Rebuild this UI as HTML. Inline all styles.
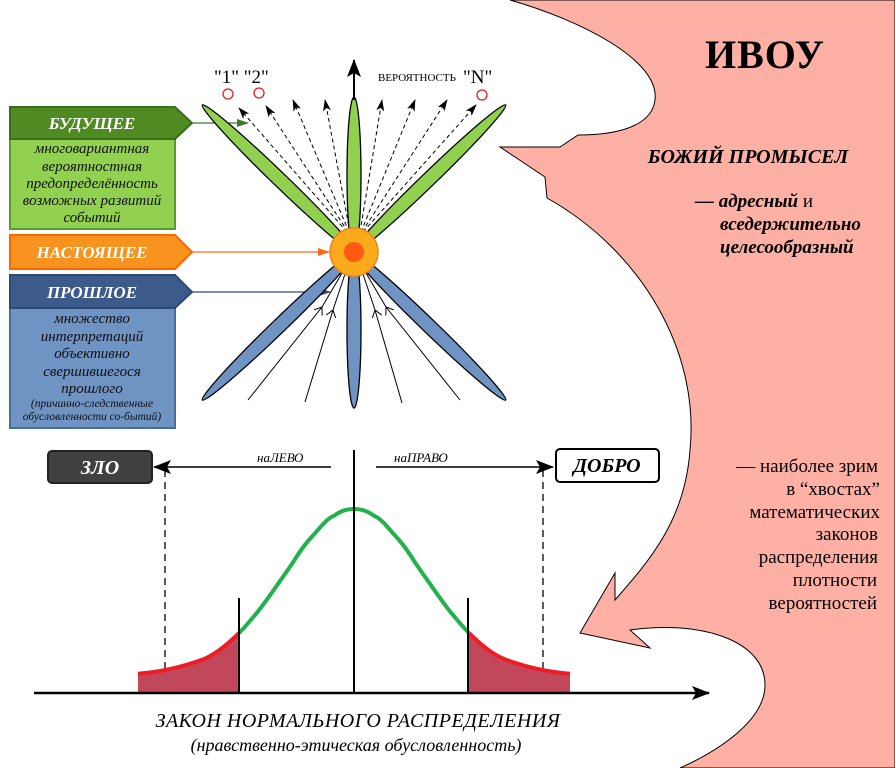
<!DOCTYPE html>
<html><head><meta charset="utf-8"><style>
html,body{margin:0;padding:0;background:#fff}
svg{display:block}
.s{font-family:"Liberation Serif",serif}
</style></head><body>
<svg width="895" height="768" viewBox="0 0 895 768" xmlns="http://www.w3.org/2000/svg" class="s">
<defs>
<marker id="ah" markerWidth="12" markerHeight="8" refX="11" refY="4" orient="auto" markerUnits="userSpaceOnUse"><path d="M0,0 L12,4 L0,8 L3,4 Z" fill="#000"/></marker>
<marker id="ahg" markerWidth="12" markerHeight="8" refX="11" refY="4" orient="auto" markerUnits="userSpaceOnUse"><path d="M0,0 L12,4 L0,8 Z" fill="#3a7a2a"/></marker>
<marker id="aho" markerWidth="12" markerHeight="8" refX="11" refY="4" orient="auto" markerUnits="userSpaceOnUse"><path d="M0,0 L12,4 L0,8 Z" fill="#ff6a1a"/></marker>
<marker id="ahb" markerWidth="12" markerHeight="8" refX="11" refY="4" orient="auto" markerUnits="userSpaceOnUse"><path d="M0,0 L12,4 L0,8 Z" fill="#2e4a78"/></marker>
<marker id="ahB" markerWidth="18" markerHeight="14" refX="17" refY="7" orient="auto" markerUnits="userSpaceOnUse"><path d="M0,0 L18,7 L0,14 L4,7 Z" fill="#000"/></marker>
<marker id="open" markerWidth="14" markerHeight="14" refX="7" refY="7" orient="auto" markerUnits="userSpaceOnUse"><path d="M0,2 L7,7 L0,12" fill="none" stroke="#000" stroke-width="1"/></marker>
</defs>

<path d="M510,0 C580,20 660,60 655,100 C652,125 620,135 578,135 L560,147 L500,147 L545,177 L547,198 C640,250 700,350 690,450 C685,520 650,560 615,600 L615,573 L580,633 L650,648 L630,630 C700,620 765,640 765,685 C765,720 720,750 680,768 L895,768 L895,0 Z" fill="#ffb0a5" stroke="#000" stroke-width="1"/>

<text x="765" y="68" font-size="40" font-weight="bold" text-anchor="middle" letter-spacing="1">ИВОУ</text>
<text x="748" y="163" font-size="20" font-weight="bold" font-style="italic" text-anchor="middle">БОЖИЙ ПРОМЫСЕЛ</text>
<text x="695" y="207" font-size="19" font-weight="bold" font-style="italic">— адресный <tspan font-weight="normal" font-style="normal">и</tspan></text>
<text x="720" y="230" font-size="19" font-weight="bold" font-style="italic">вседержительно</text>
<text x="720" y="253" font-size="19" font-weight="bold" font-style="italic">целесообразный</text>
<g font-size="19" text-anchor="end">
<text x="878" y="472">— наиболее зрим</text>
<text x="880" y="495">в “хвостах”</text>
<text x="880" y="518">математических</text>
<text x="878" y="540">законов</text>
<text x="878" y="563">распределения</text>
<text x="877" y="586">плотности</text>
<text x="877" y="609">вероятностей</text>
</g>

<rect x="10" y="139" width="165" height="90" fill="#92d050" stroke="#5a9a30" stroke-width="2"/>
<path d="M10,107 L175,107 L192,123 L175,139 L10,139 Z" fill="#4f8a22" stroke="#3b6e1a" stroke-width="2"/>
<text x="92" y="129" font-size="17" font-weight="bold" font-style="italic" fill="#fff" text-anchor="middle">БУДУЩЕЕ</text>
<g font-size="15" font-style="italic" text-anchor="middle" fill="#111">
<text x="92" y="153">многовариантная</text>
<text x="92" y="171">вероятностная</text>
<text x="92" y="188">предопределённость</text>
<text x="92" y="205">возможных развитий</text>
<text x="92" y="222">событий</text>
</g>
<path d="M10,235 L175,235 L192,252 L175,269 L10,269 Z" fill="#f7931e" stroke="#ff6600" stroke-width="2"/>
<text x="92" y="258" font-size="17" font-weight="bold" font-style="italic" fill="#fff" text-anchor="middle">НАСТОЯЩЕЕ</text>
<rect x="10" y="308" width="165" height="120" fill="#6f93c3" stroke="#4a6c9c" stroke-width="2"/>
<path d="M10,275 L175,275 L192,292 L175,308 L10,308 Z" fill="#3c5a8a" stroke="#2e4a74" stroke-width="2"/>
<text x="92" y="298" font-size="17" font-weight="bold" font-style="italic" fill="#fff" text-anchor="middle">ПРОШЛОЕ</text>
<g font-size="15" font-style="italic" text-anchor="middle" fill="#111">
<text x="92" y="323">множество</text>
<text x="92" y="341">интерпретаций</text>
<text x="92" y="358">объективно</text>
<text x="92" y="376">свершившегося</text>
<text x="92" y="393">прошлого</text>
<text x="92" y="407" font-size="11.5">(причинно-следственные</text>
<text x="92" y="420" font-size="11.5">обусловленности со-бытий)</text>
</g>
<line x1="192" y1="123" x2="248" y2="123" stroke="#3a7a2a" stroke-width="1.2" marker-end="url(#ahg)"/>
<line x1="192" y1="252" x2="329" y2="252" stroke="#ff6a1a" stroke-width="1.2" marker-end="url(#aho)"/>
<line x1="192" y1="292" x2="330" y2="292" stroke="#2e4a78" stroke-width="1.2" marker-end="url(#ahb)"/>

<g stroke="#000" stroke-width="1.3">
<ellipse cx="354" cy="330" rx="7" ry="78" fill="#6f93c3"/>
<ellipse cx="280" cy="325" rx="108" ry="7" fill="#6f93c3" transform="rotate(-44 280 325)"/>
<ellipse cx="428" cy="325" rx="108" ry="7" fill="#6f93c3" transform="rotate(44 428 325)"/>
<ellipse cx="354" cy="175" rx="7" ry="78" fill="#92d050"/>
<ellipse cx="280" cy="180" rx="108" ry="7" fill="#92d050" transform="rotate(44 280 180)"/>
<ellipse cx="428" cy="180" rx="108" ry="7" fill="#92d050" transform="rotate(-44 428 180)"/>
</g>
<line x1="354" y1="100" x2="354" y2="60" stroke="#000" stroke-width="2" marker-end="url(#ahB)"/>
<g stroke="#000" stroke-width="1" stroke-dasharray="4,3" fill="none">
<line x1="347" y1="232" x2="239" y2="108" marker-end="url(#ah)"/>
<line x1="348" y1="232" x2="266" y2="106" marker-end="url(#ah)"/>
<line x1="349" y1="232" x2="293" y2="100" marker-end="url(#ah)"/>
<line x1="350" y1="232" x2="325" y2="100" marker-end="url(#ah)"/>
<line x1="360" y1="232" x2="382" y2="100" marker-end="url(#ah)"/>
<line x1="361" y1="232" x2="415" y2="100" marker-end="url(#ah)"/>
<line x1="362" y1="232" x2="447" y2="100" marker-end="url(#ah)"/>
<line x1="363" y1="232" x2="476" y2="105" marker-end="url(#ah)"/>
</g>
<g fill="#fff" stroke="#e02020" stroke-width="1.3">
<circle cx="228" cy="94" r="5"/><circle cx="259" cy="93" r="5"/><circle cx="482" cy="95" r="5"/>
</g>
<text x="214" y="83" font-size="19">"1" "2"</text>
<text x="378" y="81" font-size="11">ВЕРОЯТНОСТЬ</text>
<text x="463" y="83" font-size="19">"N"</text>
<g stroke="#000" stroke-width="1" fill="none">
<path d="M248,400 L322,307 L345,268" marker-mid="url(#open)"/>
<path d="M305,402 L333,310 L347,268" marker-mid="url(#open)"/>
<path d="M402,403 L375,310 L361,268" marker-mid="url(#open)"/>
<path d="M460,400 L386,307 L363,268" marker-mid="url(#open)"/>
</g>
<circle cx="354" cy="252" r="24" fill="#fbaa1c" stroke="#f58220" stroke-width="1.5"/>
<circle cx="354" cy="252" r="10" fill="#ff5a14"/>

<rect x="48" y="451" width="104" height="32" rx="4" fill="#404040" stroke="#222" stroke-width="2"/>
<text x="100" y="474" font-size="20" font-weight="bold" font-style="italic" fill="#fff" text-anchor="middle">ЗЛО</text>
<rect x="556" y="449" width="103" height="33" rx="4" fill="#fff" stroke="#000" stroke-width="2"/>
<text x="607" y="472" font-size="20" font-weight="bold" font-style="italic" text-anchor="middle">ДОБРО</text>
<line x1="331" y1="467" x2="154" y2="467" stroke="#000" stroke-width="1.5" marker-end="url(#ahB)"/>
<line x1="376" y1="467" x2="553" y2="467" stroke="#000" stroke-width="1.5" marker-end="url(#ahB)"/>
<text x="257" y="462" font-size="13" font-style="italic">наЛЕВО</text>
<text x="394" y="462" font-size="13" font-style="italic">наПРАВО</text>
<g stroke="#000" stroke-width="1.3" stroke-dasharray="7,5">
<line x1="165" y1="470" x2="165" y2="688"/>
<line x1="543" y1="470" x2="543" y2="688"/>
</g>
<path d="M138,693 L138,673.7 L164,671.1 L184,666.7 L204,659 L224,646.3 L239,633 L239,693 Z" fill="#c0485a"/>
<path d="M570,693 L570,673.7 L544,671.1 L524,666.7 L504,659 L484,646.3 L469,633 L469,693 Z" fill="#c0485a"/>
<path d="M138,673.7 C160,672 180,668 204,659 C216,654 228,644 239,633" fill="none" stroke="#ee1c24" stroke-width="4"/>
<path d="M570,673.7 C548,672 528,668 504,659 C492,654 480,644 469,633" fill="none" stroke="#ee1c24" stroke-width="4"/>
<path d="M239,633 C246,626 249,622 254,616.2 C262,607 268,598 274,589.6 C282,578 288,570 294,560.8 C302,548 307,542 314,534.4 C322,525 328,518 334,515.8 C342,510 348,509 354,509 C360,509 366,510 374,515.8 C380,518 386,525 394,534.4 C401,542 406,548 414,560.8 C420,570 426,578 434,589.6 C440,598 446,607 454,616.2 C459,622 462,626 469,633" fill="none" stroke="#22b14c" stroke-width="4"/>
<line x1="239" y1="598" x2="239" y2="693" stroke="#000" stroke-width="2"/>
<line x1="468" y1="598" x2="468" y2="693" stroke="#000" stroke-width="2"/>
<line x1="354" y1="450" x2="354" y2="693" stroke="#000" stroke-width="2"/>
<line x1="34" y1="693" x2="709" y2="693" stroke="#000" stroke-width="2.5" marker-end="url(#ahB)"/>
<text x="358" y="727" font-size="20" font-style="italic" text-anchor="middle" letter-spacing="0.5">ЗАКОН  НОРМАЛЬНОГО  РАСПРЕДЕЛЕНИЯ</text>
<text x="356" y="751" font-size="18" font-style="italic" text-anchor="middle">(нравственно-этическая обусловленность)</text>
</svg>
</body></html>
